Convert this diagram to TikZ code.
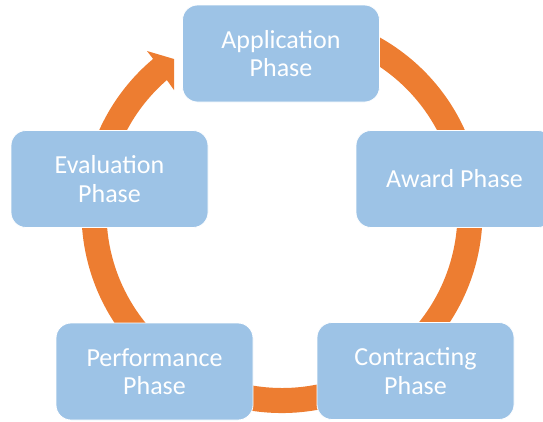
\documentclass[tikz,border=0pt]{standalone}
\usepackage{fontspec}
\setmainfont{Carlito}
\usetikzlibrary{calc}
\definecolor{boxblue}{HTML}{9DC3E6}
\definecolor{ringorange}{HTML}{ED7D31}
\tikzset{
  phasebox/.style={draw=white, line width=0.8pt, fill=boxblue, rounded corners=15pt,
    minimum width=197pt, minimum height=97pt, inner sep=0pt, text=white,
    align=center, font=\fontsize{26}{28.3}\selectfont},
  ring/.style={fill=ringorange}
}
\begin{document}
\begin{tikzpicture}[x=1pt,y=1pt]
\useasboundingbox (0,0) rectangle (543,-421);
\clip (0,0) rectangle (543,-421);
\coordinate (C) at (282,-212.5);
\coordinate (barbout) at (147,-51);
\coordinate (tiptop) at (174,-59);
\coordinate (tipbot) at (174,-90);
% ring with arrowhead
\fill[ring] ($(C)+(100:200.5)$) arc[start angle=100, end angle=-230, radius=200.5]
  -- (barbout) -- (tiptop) -- (tipbot)
  -- ($(C)+(-229:175.5)$) arc[start angle=-229, end angle=100, radius=175.5] -- cycle;
% boxes
\node[phasebox] (app)   at (281,-53.5)   {Application\\Phase};
\node[phasebox] (award) at (454.5,-179)  {Award Phase};
\node[phasebox] (contr) at (415.5,-371)  {Contracting\\Phase};
\node[phasebox] (perf)  at (154.5,-371.5) {Performance\\Phase};
\node[phasebox] (eval)  at (109.5,-179)  {Evaluation\\Phase};
\end{tikzpicture}
\end{document}
